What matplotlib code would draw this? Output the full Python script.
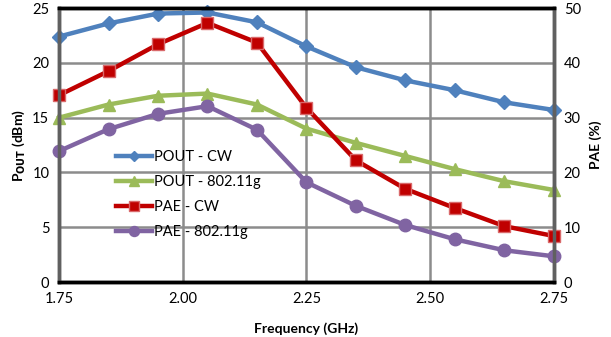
import matplotlib.pyplot as plt

freq = [1.75, 1.85, 1.95, 2.05, 2.15, 2.25, 2.35, 2.45, 2.55, 2.65, 2.75]
pout_cw = [22.4, 23.6, 24.5, 24.6, 23.7, 21.5, 19.6, 18.4, 17.5, 16.4, 15.7]
pout_g = [15.0, 16.2, 17.0, 17.2, 16.2, 14.0, 12.7, 11.5, 10.3, 9.2, 8.4]
pae_cw = [34.1, 38.5, 43.4, 47.3, 43.7, 31.8, 22.2, 17.0, 13.5, 10.2, 8.4]
pae_g = [23.9, 27.9, 30.7, 32.1, 27.8, 18.2, 13.9, 10.4, 7.8, 5.8, 4.7]

plt.rcParams['font.family'] = ['Lato', 'DejaVu Sans']

fig = plt.figure(figsize=(6.11, 3.37), dpi=100)
ax = fig.add_axes([0.0966, 0.163, 0.81, 0.813])
ax2 = ax.twinx()

lw = 3.2
l1, = ax.plot(freq, pout_cw, color='#4F81BD', lw=lw, marker='D', ms=7, label='POUT - CW')
l2, = ax.plot(freq, pout_g, color='#9BBB59', lw=lw, marker='^', ms=9, label='POUT - 802.11g')
l3, = ax2.plot(freq, pae_cw, color='#C00000', lw=lw, marker='s', ms=8.5,
               mfc='#C00000', mec='#D9686A', mew=1, label='PAE - CW')
l4, = ax2.plot(freq, pae_g, color='#8064A2', lw=lw, marker='o', ms=9, label='PAE - 802.11g')
for l in (l1, l2, l3, l4):
    l.set_clip_on(False)

ax.set_xlim(1.75, 2.75)
ax.set_ylim(0, 25)
ax2.set_ylim(0, 50)
ax.set_xticks([1.75, 2.00, 2.25, 2.50, 2.75])
ax.set_xticklabels(['1.75', '2.00', '2.25', '2.50', '2.75'])
ax.set_yticks([0, 5, 10, 15, 20, 25])
ax2.set_yticks([0, 10, 20, 30, 40, 50])
ax.grid(True, color='#8C8C8C', lw=1.8)
ax.set_axisbelow(True)

for a in (ax, ax2):
    a.tick_params(length=0, labelsize=10.5, pad=7)
    a.spines['left'].set_color('#606060')
    a.spines['left'].set_linewidth(2.5)
    a.spines['right'].set_color('#606060')
    a.spines['right'].set_linewidth(2.5)
    a.spines['top'].set_color('black')
    a.spines['top'].set_linewidth(2.5)
    a.spines['bottom'].set_color('black')
    a.spines['bottom'].set_linewidth(2.5)

ax.set_xlabel('Frequency (GHz)', fontsize=10, fontweight='bold', labelpad=12)
ax.set_ylabel(r'P$_{\mathbf{OUT}}$ (dBm)', fontsize=10, fontweight='bold', labelpad=4)
ax2.set_ylabel('PAE (%)', fontsize=10, fontweight='bold', labelpad=6)

leg = ax.legend(handles=[l1, l2, l3, l4], loc='center left', bbox_to_anchor=(0.103, 0.32),
                frameon=False, fontsize=10.5, handlelength=2.5, handletextpad=0.1,
                labelspacing=0.75, markerscale=0.8, borderaxespad=0)

fig.savefig('out.png', dpi=100)
